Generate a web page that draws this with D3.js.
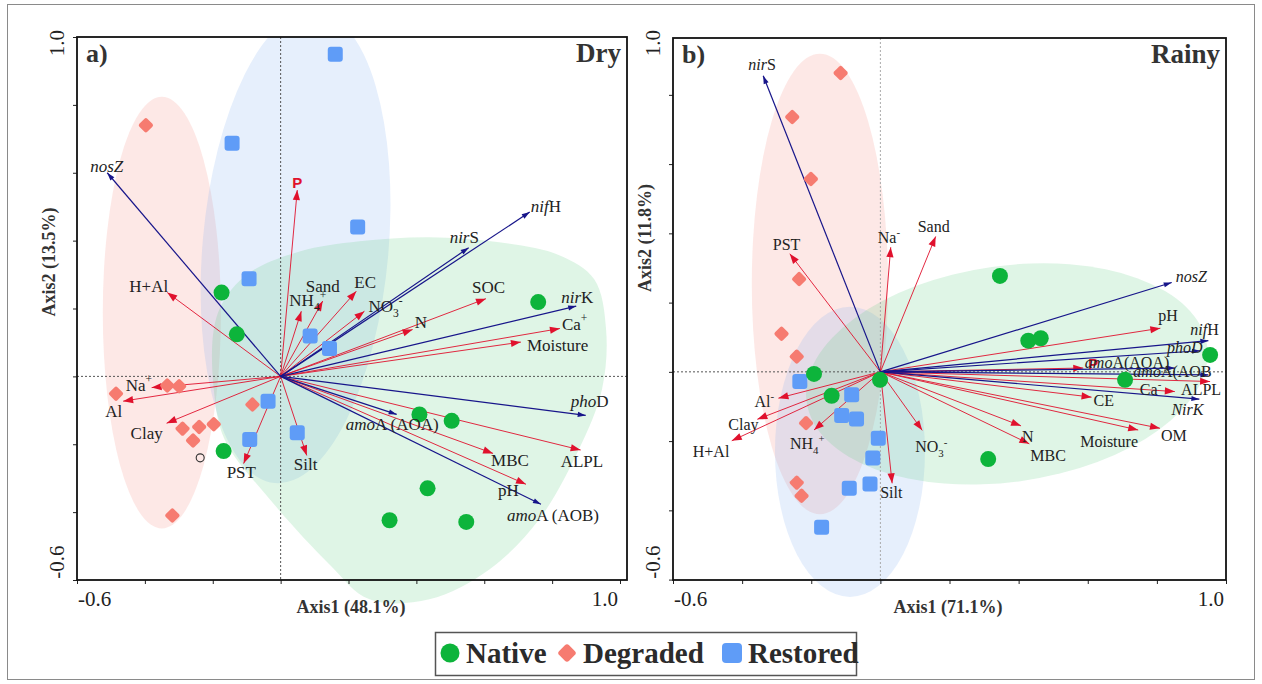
<!DOCTYPE html>
<html>
<head>
<meta charset="utf-8">
<script src="https://d3js.org/d3.v7.min.js"></script>
<style>
body { margin:0; background:#fff; }
svg { font-family:"Liberation Serif","Times New Roman",serif; }
</style>
</head>
<body>
<svg id="fig" width="1262" height="684" font-family="Liberation Serif, Times New Roman, serif"></svg>
<script>
// ---------- data (axis units) ----------
// a) Dry season : site scores
var dryNative   = [[-0.174,0.247],[-0.129,0.124],[-0.168,-0.220],[0.759,0.219],[0.409,-0.112],[0.504,-0.131],[0.433,-0.330],[0.321,-0.424],[0.547,-0.429]];
var dryDegraded = [[-0.397,0.740],[-0.485,-0.051],[-0.334,-0.027],[-0.299,-0.029],[-0.083,-0.083],[-0.289,-0.154],[-0.240,-0.149],[-0.197,-0.141],[-0.258,-0.189],[-0.319,-0.410]];
var dryRestored = [[0.161,0.949],[-0.143,0.687],[0.227,0.440],[-0.093,0.288],[0.087,0.119],[0.144,0.082],[-0.037,-0.073],[-0.091,-0.186],[0.049,-0.166]];
var dryHollow   = [[-0.237,-0.240]];
// a) Dry : soil variables (red) and genes (blue)
var dryEnvNames = ["P","H+Al","Na^+^","Al","Clay","PST","Silt","NH_4_^+^","Sand","EC","NO_3_^-^","N","SOC","Ca^+^","Moisture","ALPL","MBC","pH"];
var dryEnvX     = [0.049,-0.334,-0.380,-0.464,-0.336,-0.109,0.077,0.061,0.124,0.223,0.247,0.389,0.605,0.823,0.708,0.884,0.626,0.723];
var dryEnvY     = [0.549,0.247,-0.033,-0.073,-0.138,-0.257,-0.233,0.192,0.222,0.251,0.192,0.138,0.229,0.141,0.101,-0.217,-0.227,-0.318];
var dryGeneNames = ["*nosZ*","*nif*H","*nir*S","*nir*K","*pho*D","*amo*A (AOA)","*amo*A (AOB)"];
var dryGeneX     = [-0.511,0.734,0.554,0.871,0.899,0.342,0.767];
var dryGeneY     = [0.600,0.484,0.379,0.207,-0.115,-0.112,-0.377];
// a) Dry : group envelopes  [cx, cy, rx, ry, angle]
var dryDegradedEllipse = [-0.350,0.188,0.174,0.636,0];
var dryRestoredEllipse = [0.044,0.381,0.274,0.698,5];
var dryNativeHull = [[-0.197,0.138],[-0.165,0.227],[-0.091,0.306],[0.056,0.368],[0.232,0.398],[0.438,0.410],[0.644,0.395],[0.821,0.357],[0.924,0.286],[0.959,0.138],[0.947,-0.038],[0.879,-0.215],[0.762,-0.421],[0.615,-0.569],[0.438,-0.657],[0.262,-0.657],[0.144,-0.554],[-0.032,-0.362],[-0.165,-0.186],[-0.197,-0.038]];

// b) Rainy season : site scores
var rainyNative   = [[0.346,0.277],[0.428,0.090],[0.464,0.097],[0.954,0.049],[0.708,-0.023],[0.312,-0.252],[-0.192,-0.006],[-0.141,-0.069],[-0.001,-0.023]];
var rainyDegraded = [[-0.115,0.863],[-0.255,0.736],[-0.201,0.557],[-0.235,0.268],[-0.286,0.110],[-0.242,0.044],[-0.215,-0.148],[-0.242,-0.320],[-0.228,-0.358]];
var rainyRestored = [[-0.233,-0.028],[-0.083,-0.066],[-0.112,-0.126],[-0.069,-0.136],[-0.006,-0.192],[-0.022,-0.249],[-0.030,-0.324],[-0.090,-0.336],[-0.170,-0.449]];
// b) Rainy : soil variables and genes
var rainyEnvNames = ["Na^-^","Sand","PST","pH","P","ALPL","Ca^-^","CE","OM","Moisture","N","MBC","NO_3_^-^","Silt","NH_4_^+^","Al^-^","Clay","H+Al"];
var rainyEnvX     = [0.030,0.160,-0.262,0.810,0.587,0.954,0.852,0.611,0.809,0.746,0.407,0.431,0.121,0.034,-0.192,-0.295,-0.356,-0.430];
var rainyEnvY     = [0.360,0.391,0.341,0.126,0.011,-0.028,-0.057,-0.073,-0.163,-0.168,-0.156,-0.208,-0.169,-0.322,-0.168,-0.076,-0.137,-0.199];
var rainyGeneNames = ["*nir*S","*nosZ*","*nif*H","*phoD*","*amo*A(AOA)","*amo*A(AOB","*NirK*"];
var rainyGeneX     = [-0.339,0.843,0.949,0.925,0.852,0.949,0.923];
var rainyGeneY     = [0.855,0.258,0.090,0.061,0.011,-0.009,-0.079];
// b) Rainy : group envelopes  [cx, cy, rx, ry, angle]
var rainyDegradedEllipse = [-0.175,0.254,0.197,0.665,0];
var rainyRestoredEllipse = [-0.088,-0.231,0.217,0.419,0];
var rainyNativeEllipse   = [0.366,-0.006,0.585,0.312,-8];

var groupNames = ["Native","Degraded","Restored"];

// ---------- layout (label offsets from arrow tips, px) ----------
var dryEnvLabelPos  = [[-5,-2],[-38,-1],[-26,3],[-18,16],[-36,16],[-17,14],[-13,15],[-12,-5],[-17,-9],[-2,-3],[4,1],[2,-2],[-14,-6],[2,1],[6,9],[-20,17],[-2,13],[-28,12]];
var dryGeneLabelPos = [[-17,-1],[1,0],[-19,-5],[-15,-3],[-15,-8],[-51,16],[-34,17]];
var rainyEnvLabelPos  = [[-13,-4],[-18,-4],[-17,-4],[-2,-7],[5,1],[-29,13],[-35,3],[2,9],[1,13],[-58,17],[1,16],[1,17],[-7,22],[-12,15],[-24,19],[-24,9],[-29,11],[-39,16]];
var rainyGeneLabelPos = [[-15,-6],[4,-1],[-18,-6],[-33,2],[-90,0],[-75,2],[-28,16]];

var colNative = '#0db43b', colDegraded = '#f67b70', colRestored = '#5f9cf7';
var envColor = '#e0112d', geneColor = '#17158a';

var svg = d3.select('#fig');

// outer border
svg.append('rect').attr('x',7.5).attr('y',4.5).attr('width',1247).attr('height',675)
  .attr('fill','none').attr('stroke','#8a8a8a').attr('stroke-width',1);

var defs = svg.append('defs');
function marker(id, color, len, half) {
  defs.append('marker').attr('id', id)
    .attr('viewBox', (-len-1) + ' ' + (-half-1) + ' ' + (len+2) + ' ' + (2*half+2))
    .attr('refX', 0).attr('refY', 0)
    .attr('markerUnits', 'userSpaceOnUse')
    .attr('markerWidth', len+2).attr('markerHeight', 2*half+2)
    .attr('orient', 'auto')
    .append('path').attr('d', 'M0,0L' + (-len) + ',' + (-half) + 'L' + (-len) + ',' + half + 'Z')
    .attr('fill', color);
}
marker('arrEnv', envColor, 10, 3.6);
marker('arrGene', geneColor, 8, 2.6);

// rich label: *italic*, _sub_, ^sup^
function richText(sel, str, size) {
  var parts = str.match(/(\*[^*]+\*|_[^_]+_|\^[^\^]+\^|[^*_\^]+)/g);
  var shift = 0;
  parts.forEach(function(p) {
    var ts = sel.append('tspan'), t = p, target = 0;
    if (p[0] == '*') { t = p.slice(1,-1); ts.attr('font-style','italic'); }
    else if (p[0] == '_') { t = p.slice(1,-1); target = size*0.28; ts.attr('font-size', size*0.68); }
    else if (p[0] == '^') { t = p.slice(1,-1); target = -size*0.42; ts.attr('font-size', size*0.68); }
    if (target - shift != 0) ts.attr('dy', target - shift);
    ts.text(t);
    shift = target;
  });
}

function drawPanel(p) {
  var x = d3.scaleLinear().domain([-0.6, 1.0]).range([p.xl, p.xr]);
  var y = d3.scaleLinear().domain([-0.6, 1.0]).range([p.yb, p.yt]);
  var k = x(1) - x(0);
  var ky = y(0) - y(1);

  svg.append('clipPath').attr('id', 'clip' + p.id).append('rect')
    .attr('x', p.fx0).attr('y', p.fy0).attr('width', p.fx1 - p.fx0).attr('height', 684 - p.fy0);

  var g = svg.append('g');
  var env = g.append('g').attr('clip-path', 'url(#clip' + p.id + ')');

  function ellipse(e, fill) {
    env.append('ellipse')
      .attr('transform', 'translate(' + x(e[0]) + ',' + y(e[1]) + ') rotate(' + e[4] + ')')
      .attr('rx', e[2]*k).attr('ry', e[3]*ky)
      .attr('fill', fill);
  }
  ellipse(p.degEll, 'rgba(245,140,130,0.2)');
  ellipse(p.resEll, 'rgba(130,175,240,0.2)');
  if (p.natEll) ellipse(p.natEll, 'rgba(95,205,130,0.2)');
  if (p.natHull) {
    env.append('path')
      .attr('d', d3.line().x(function(d){return x(d[0]);}).y(function(d){return y(d[1]);})
        .curve(d3.curveCatmullRomClosed.alpha(0.5))(p.natHull))
      .attr('fill', 'rgba(95,205,130,0.2)');
  }

  // ticks
  var ticks = [-0.6,-0.4,-0.2,0,0.2,0.4,0.6,0.8,1.0];
  var ax = g.append('g').attr('transform','translate(0,' + p.fy1 + ')')
    .call(d3.axisBottom(x).tickValues(ticks).tickSize(4).tickFormat(''));
  var ay = g.append('g').attr('transform','translate(' + p.fx0 + ',0)')
    .call(d3.axisLeft(y).tickValues(ticks.filter(function(t){ return y(t) >= p.fy0 - 0.5; })).tickSize(4).tickFormat(''));
  ax.select('.domain').remove(); ay.select('.domain').remove();
  g.selectAll('.tick line').attr('stroke','#222').attr('stroke-width',1);

  // zero lines
  g.append('line').attr('x1', x(0)).attr('x2', x(0)).attr('y1', p.fy0).attr('y2', p.fy1)
    .attr('stroke', p.vZeroColor).attr('stroke-width',1).attr('stroke-dasharray','2,2');
  g.append('line').attr('x1', p.fx0).attr('x2', p.fx1).attr('y1', y(0)).attr('y2', y(0))
    .attr('stroke', '#555').attr('stroke-width',1).attr('stroke-dasharray','2,2');

  // arrows
  function arrows(xs, ys, color, mk, w) {
    g.append('g').selectAll('line').data(xs).join('line')
      .attr('x1', x(0)).attr('y1', y(0))
      .attr('x2', function(d){ return x(d); })
      .attr('y2', function(d,i){ return y(ys[i]); })
      .attr('stroke', color).attr('stroke-width', w)
      .attr('marker-end', 'url(#' + mk + ')');
  }
  arrows(p.envX, p.envY, envColor, 'arrEnv', 0.9);
  arrows(p.geneX, p.geneY, geneColor, 'arrGene', 1.2);

  // site scores
  g.append('g').selectAll('rect').data(p.degraded).join('rect')
    .attr('transform', function(d){ return 'translate(' + x(d[0]) + ',' + y(d[1]) + ') rotate(45)'; })
    .attr('x',-5.6).attr('y',-5.6).attr('width',11.2).attr('height',11.2).attr('rx',2)
    .attr('fill', colDegraded);
  g.append('g').selectAll('rect').data(p.restored).join('rect')
    .attr('x', function(d){ return x(d[0]) - 7.5; }).attr('y', function(d){ return y(d[1]) - 7.5; })
    .attr('width',15).attr('height',15).attr('rx',3)
    .attr('fill', colRestored);
  g.append('g').selectAll('circle').data(p.native).join('circle')
    .attr('cx', function(d){ return x(d[0]); }).attr('cy', function(d){ return y(d[1]); })
    .attr('r', 8).attr('fill', colNative);
  if (p.hollow) {
    g.append('g').selectAll('circle').data(p.hollow).join('circle')
      .attr('cx', function(d){ return x(d[0]); }).attr('cy', function(d){ return y(d[1]); })
      .attr('r', 4).attr('fill', 'none').attr('stroke', '#333').attr('stroke-width', 1.1);
  }

  // labels
  function labels(names, xs, ys, pos) {
    names.forEach(function(n, i) {
      var t = g.append('text')
        .attr('x', x(xs[i]) + pos[i][0]).attr('y', y(ys[i]) + pos[i][1]);
      if (n == 'P') {
        t.attr('font-family','Liberation Sans, Arial, sans-serif').attr('font-weight','bold')
          .attr('font-size', 15).attr('fill', envColor).text('P');
      } else {
        t.attr('font-size', p.fs).attr('fill', '#222');
        richText(t, n, p.fs);
      }
    });
  }
  labels(p.envNames, p.envX, p.envY, p.envPos);
  labels(p.geneNames, p.geneX, p.geneY, p.genePos);

  // frame
  g.append('rect').attr('x', p.fx0).attr('y', p.fy0)
    .attr('width', p.fx1 - p.fx0).attr('height', p.fy1 - p.fy0)
    .attr('fill','none').attr('stroke','#111').attr('stroke-width',1.8);

  // tick labels at the ends
  g.append('text').attr('x', p.fx0 + 1).attr('y', p.fy1 + 26).attr('font-size',21).attr('fill','#222').text('-0.6');
  g.append('text').attr('x', x(1.0) - 2).attr('y', p.fy1 + 26).attr('text-anchor','end').attr('font-size',21).attr('fill','#222').text('1.0');
  g.append('text').attr('transform','translate(' + (p.fx0 - 13) + ',' + 43 + ') rotate(-90)')
    .attr('text-anchor','middle').attr('font-size',21).attr('fill','#222').text('1.0');
  g.append('text').attr('transform','translate(' + (p.fx0 - 13) + ',' + 562 + ') rotate(-90)')
    .attr('text-anchor','middle').attr('font-size',21).attr('fill','#222').text('-0.6');

  // axis titles
  g.append('text').attr('x', p.xTitleX).attr('y', p.fy1 + 33).attr('text-anchor','middle')
    .attr('font-size',18).attr('font-weight','bold').attr('fill','#333').text(p.xTitle);
  g.append('text').attr('transform','translate(' + (p.fx0 - 22) + ',' + p.yTitleY + ') rotate(-90)')
    .attr('text-anchor','middle').attr('font-size',18).attr('font-weight','bold').attr('fill','#333').text(p.yTitle);

  // panel tag and season
  g.append('text').attr('x', p.fx0 + 9).attr('y', p.fy0 + 25).attr('font-size',26).attr('font-weight','bold').attr('fill','#333').text(p.tag);
  g.append('text').attr('x', p.fx1 - 6).attr('y', p.fy0 + 25).attr('text-anchor','end').attr('font-size',27).attr('font-weight','bold').attr('fill','#333').text(p.season);
}

drawPanel({
  id: 'a', xl: 77, xr: 620, yb: 580, yt: 37, fx0: 77, fx1: 627, fy0: 37, fy1: 580,
  native: dryNative, degraded: dryDegraded, restored: dryRestored, hollow: dryHollow,
  envNames: dryEnvNames, envX: dryEnvX, envY: dryEnvY, envPos: dryEnvLabelPos,
  geneNames: dryGeneNames, geneX: dryGeneX, geneY: dryGeneY, genePos: dryGeneLabelPos,
  degEll: dryDegradedEllipse, resEll: dryRestoredEllipse, natHull: dryNativeHull,
  vZeroColor: '#555', fs: 17,
  tag: 'a)', season: 'Dry', xTitle: 'Axis1 (48.1%)', yTitle: 'Axis2 (13.5%)', xTitleX: 351, yTitleY: 262
});

drawPanel({
  id: 'b', xl: 673, xr: 1226, yb: 579.6, yt: 25.6, fx0: 673, fx1: 1226, fy0: 38, fy1: 580,
  native: rainyNative, degraded: rainyDegraded, restored: rainyRestored,
  envNames: rainyEnvNames, envX: rainyEnvX, envY: rainyEnvY, envPos: rainyEnvLabelPos,
  geneNames: rainyGeneNames, geneX: rainyGeneX, geneY: rainyGeneY, genePos: rainyGeneLabelPos,
  degEll: rainyDegradedEllipse, resEll: rainyRestoredEllipse, natEll: rainyNativeEllipse,
  vZeroColor: '#aaa', fs: 16,
  tag: 'b)', season: 'Rainy', xTitle: 'Axis1 (71.1%)', yTitle: 'Axis2 (11.8%)', xTitleX: 948, yTitleY: 238
});

// legend
var lg = svg.append('g');
lg.append('rect').attr('x',435.5).attr('y',632.5).attr('width',421).attr('height',43)
  .attr('fill','#fff').attr('stroke','#555').attr('stroke-width',1.5);
var legendX = [450, 567, 732];
var legendColors = [colNative, colDegraded, colRestored];
groupNames.forEach(function(n, i) {
  var cx = legendX[i], cy = 653;
  if (i == 0) lg.append('circle').attr('cx', cx).attr('cy', cy).attr('r', 9.5).attr('fill', legendColors[i]);
  if (i == 1) lg.append('rect').attr('transform','translate(' + cx + ',' + cy + ') rotate(45)')
    .attr('x',-7).attr('y',-7).attr('width',14).attr('height',14).attr('rx',3).attr('fill', legendColors[i]);
  if (i == 2) lg.append('rect').attr('x', cx - 10).attr('y', cy - 10).attr('width',20).attr('height',20)
    .attr('rx',4).attr('fill', legendColors[i]);
  lg.append('text').attr('x', cx + 16).attr('y', 663).attr('font-size',29).attr('font-weight','bold')
    .attr('fill','#2b2b2b').text(n);
});
</script>
</body>
</html>
